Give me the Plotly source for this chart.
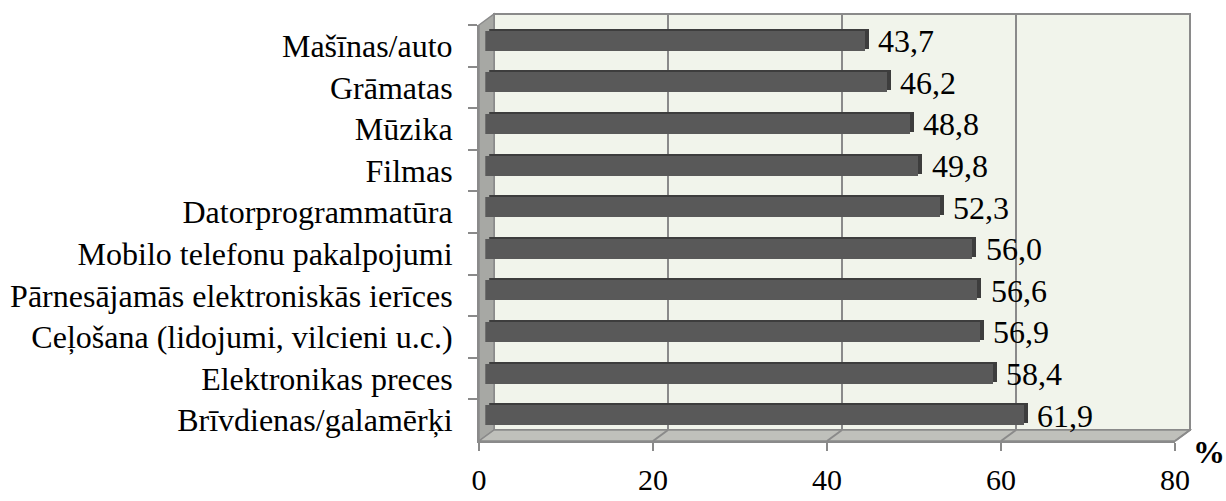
import plotly.graph_objects as go

# Share of respondents per purchase category, %
categories = [
    "Mašīnas/auto",
    "Grāmatas",
    "Mūzika",
    "Filmas",
    "Datorprogrammatūra",
    "Mobilo telefonu pakalpojumi",
    "Pārnesājamās elektroniskās ierīces",
    "Ceļošana (lidojumi, vilcieni u.c.)",
    "Elektronikas preces",
    "Brīvdienas/galamērķi",
]
values = [43.7, 46.2, 48.8, 49.8, 52.3, 56.0, 56.6, 56.9, 58.4, 61.9]
x_ticks = [0, 20, 40, 60, 80]
x_range = [0, 80]
unit_label = "%"

W, H = 1226, 501
FONT = "Liberation Serif, Times New Roman, serif"
FS = 32

# pseudo-3D box geometry in pixels
FX0, FX1 = 479, 1175        # front floor edge (0 .. 80)
FY0, FY1 = 25, 441          # category band top / bottom at the front
DX, DY = 15, 11             # depth offset of the back wall


def px(x):
    return x / W


def py(y):
    return 1 - y / H


def xdom(shift):
    return [px(FX0 + shift), px(FX1 + shift)]


def ydom(shift):
    return [py(FY1 - shift), py(FY0 - shift)]


def xpix(v, depth=0.0):
    return FX0 + DX * depth + (v - x_range[0]) / (x_range[1] - x_range[0]) * (FX1 - FX0)


n = len(categories)
cat_range = [n - 0.5, -0.5]

fig = go.Figure()

# front subplot: category labels and value axis
fig.add_trace(go.Scatter(x=[0] * n, y=categories, mode="markers",
                         marker=dict(opacity=0), hoverinfo="skip",
                         showlegend=False, xaxis="x", yaxis="y"))
# back wall grid subplot
fig.add_trace(go.Scatter(x=x_range, y=categories[:2], mode="markers",
                         marker=dict(opacity=0), hoverinfo="skip",
                         showlegend=False, xaxis="x2", yaxis="y2"))
# bar depth (top and end faces)
fig.add_trace(go.Bar(x=values, y=categories, orientation="h", width=0.48,
                     marker=dict(color="#3d3d3d", line=dict(width=0)),
                     hoverinfo="skip", showlegend=False, xaxis="x3", yaxis="y3"))
# bar front faces
fig.add_trace(go.Bar(x=values, y=categories, orientation="h", width=0.48,
                     marker=dict(color="#595959", line=dict(width=0)),
                     showlegend=False, xaxis="x4", yaxis="y4"))

grey = "#8a8a8a"
shapes = []
# back wall
shapes.append(dict(type="rect", xref="paper", yref="paper", layer="below",
                   x0=px(FX0 + DX), x1=px(FX1 + DX), y0=py(FY1 - DY), y1=py(FY0 - DY),
                   fillcolor="#f1f4eb", line=dict(color=grey, width=2)))
# left side wall
shapes.append(dict(type="path", xref="paper", yref="paper", layer="below",
                   path=(f"M {px(FX0)} {py(FY0)} L {px(FX0 + DX)} {py(FY0 - DY)} "
                         f"L {px(FX0 + DX)} {py(FY1 - DY)} L {px(FX0)} {py(FY1)} Z"),
                   fillcolor="#a7a8a4", line=dict(color=grey, width=1.5)))
# floor
shapes.append(dict(type="path", xref="paper", yref="paper", layer="below",
                   path=(f"M {px(FX0)} {py(FY1)} L {px(FX1)} {py(FY1)} "
                         f"L {px(FX1 + DX)} {py(FY1 - DY)} L {px(FX0 + DX)} {py(FY1 - DY)} Z"),
                   fillcolor="#bfc0bb", line=dict(color=grey, width=1.5)))
# floor grid lines running into depth
for v in x_ticks[1:]:
    shapes.append(dict(type="line", xref="paper", yref="paper", layer="below",
                       x0=px(xpix(v)), y0=py(FY1), x1=px(xpix(v, 1)), y1=py(FY1 - DY),
                       line=dict(color=grey, width=2)))

annotations = []
for c, v in zip(categories, values):
    annotations.append(dict(xref="x4", yref="y4", x=v, y=c, text=f"{v:.1f}".replace(".", ","),
                            xanchor="left", yanchor="middle", xshift=11, yshift=0,
                            showarrow=False, font=dict(family=FONT, size=FS, color="black")))
annotations.append(dict(xref="paper", yref="paper", x=px(1209), y=py(452), text=f"<b>{unit_label}</b>",
                        xanchor="center", yanchor="middle", showarrow=False,
                        font=dict(family=FONT, size=FS, color="black")))

hidden = dict(visible=False, fixedrange=True, automargin=False)
fig.update_layout(
    template="none",
    width=W, height=H,
    margin=dict(l=0, r=0, t=0, b=0, pad=0, autoexpand=False),
    paper_bgcolor="white", plot_bgcolor="rgba(0,0,0,0)",
    font=dict(family=FONT, size=FS, color="black"),
    showlegend=False,
    bargap=0,
    xaxis=dict(domain=xdom(0), range=x_range, anchor="y", tickvals=x_ticks, automargin=False,
               showgrid=False, zeroline=False, showline=True, linecolor=grey, linewidth=2,
               ticks="outside", ticklen=8, tickwidth=2, tickcolor=grey,
               ticklabelstandoff=3, tickfont=dict(family=FONT, size=30)),
    yaxis=dict(domain=ydom(0), range=cat_range, anchor="x", type="category", automargin=False,
               categoryorder="array", categoryarray=categories,
               showgrid=False, zeroline=False, showline=True, linecolor=grey, linewidth=2,
               ticks="outside", ticklen=9, tickwidth=2, tickcolor=grey, tickson="boundaries",
               ticklabelstandoff=18, tickfont=dict(family=FONT, size=FS)),
    xaxis2=dict(domain=xdom(DX), range=x_range, anchor="y2", tickvals=x_ticks, automargin=False,
                showgrid=True, gridcolor=grey, gridwidth=2, zeroline=False,
                showticklabels=False, ticks="", fixedrange=True),
    yaxis2=dict(domain=ydom(DY), range=cat_range, anchor="x2", type="category", automargin=False,
                categoryorder="array", categoryarray=categories,
                showgrid=False, zeroline=False, showticklabels=False, ticks=""),
    xaxis3=dict(domain=xdom(DX * 0.68), range=x_range, anchor="y3", **hidden),
    yaxis3=dict(domain=ydom(DY * 0.68), range=cat_range, anchor="x3", type="category",
                categoryorder="array", categoryarray=categories, **hidden),
    xaxis4=dict(domain=xdom(DX * 0.42), range=x_range, anchor="y4", **hidden),
    yaxis4=dict(domain=ydom(DY * 0.42), range=cat_range, anchor="x4", type="category",
                categoryorder="array", categoryarray=categories, **hidden),
    shapes=shapes,
    annotations=annotations,
)

fig.write_html("out.html")
